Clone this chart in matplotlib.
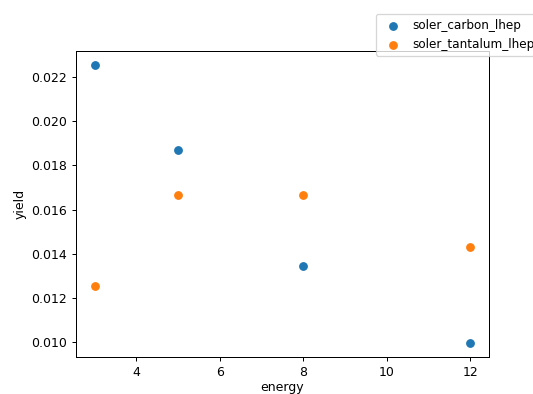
import matplotlib
matplotlib.use("Agg")
import matplotlib.pyplot as plt

energy = [3, 5, 8, 12]
carbon_yield = [0.02255, 0.01872, 0.01343, 0.00996]
tantalum_yield = [0.01253, 0.01666, 0.01666, 0.01432]

dpi = 90
fig = plt.figure(figsize=(533 / dpi, 394 / dpi), dpi=dpi)
ax = fig.add_axes([76 / 533, 1 - 357 / 394, (489 - 76) / 533, (357 - 51) / 394])

ax.scatter(energy, carbon_yield, label="soler_carbon_lhep")
ax.scatter(energy, tantalum_yield, label="soler_tantalum_lhep")
ax.set_xlabel("energy", labelpad=2)
ax.set_ylabel("yield")
ax.set_xticks([4, 6, 8, 10, 12])

fig.legend(loc="upper left", bbox_to_anchor=(370 / 533, 1 - 8 / 394),
           fontsize=9.6, handletextpad=0.6)

fig.savefig("out.png", dpi=dpi)
